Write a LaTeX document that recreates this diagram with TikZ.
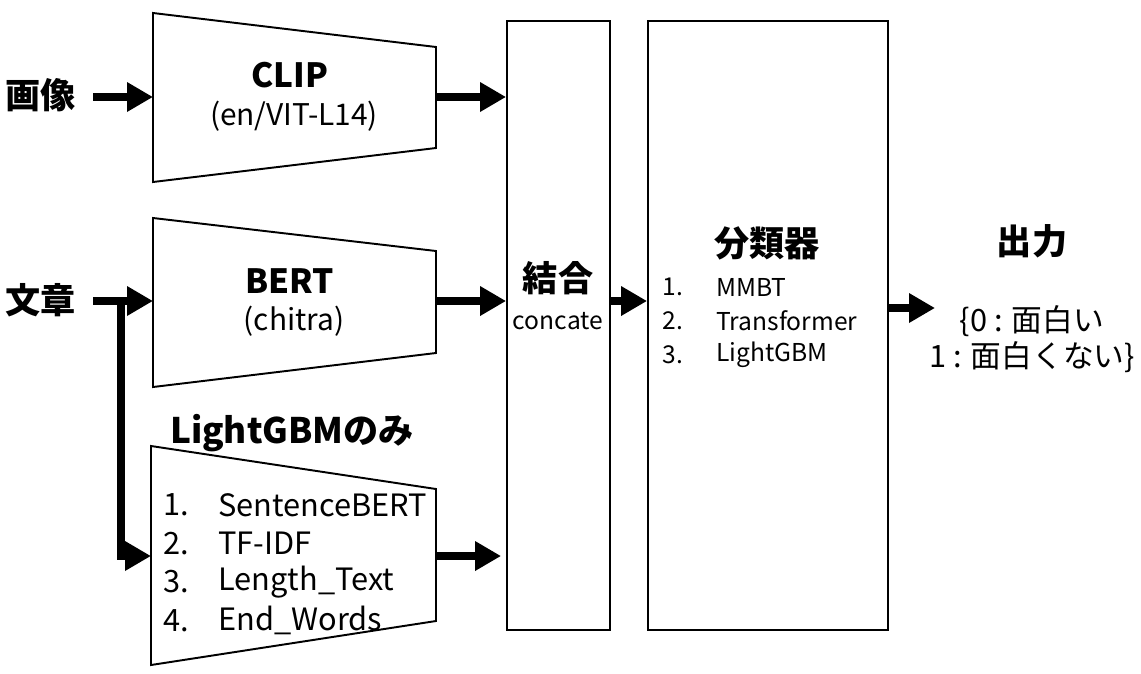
\documentclass[tikz,border=0pt]{standalone}
\usepackage{fontspec}
\setmainfont{Noto Sans CJK JP}
\usetikzlibrary{arrows.meta,calc,positioning}
\tikzset{fat/.style={line width=4.5pt, -{Triangle[length=0.52cm,width=0.56cm]}},
	fatline/.style={line width=4.5pt},
	trap/.style={draw, line width=1.1pt},
	tall/.style={draw, line width=1.1pt, minimum height=12.18cm, inner sep=0},
	lbl/.style={font=\fontsize{20}{23}\selectfont\bfseries, inner sep=0},
	head/.style={font=\fontsize{19}{22}\selectfont\bfseries, inner sep=0},
	sub/.style={font=\fontsize{17}{20}\selectfont, inner sep=0},
	item/.style={font=\fontsize{17.5}{20}\selectfont, inner sep=0, anchor=west},
	small/.style={font=\fontsize{14}{17}\selectfont, inner sep=0, anchor=west}}

\begin{document}
\begin{tikzpicture}[x=0.02cm, y=-0.02cm]
	\useasboundingbox (0,0) rectangle (1141,673);
	% inputs
	\node[lbl] (img) at (41,95) {画像};
	\node[lbl] (txt) at (41,300) {文章};
	\coordinate (imgout) at (93,97);
	\coordinate (txtout) at (93,301);
	\coordinate (fork) at (121,297);
	% encoders
	\draw[trap] (153,13) -- (436,47) -- (436,148) -- (153,182) -- cycle;
	\coordinate (clipL) at (153,97);
	\coordinate (clipR) at (436,97);
	\node[head] (clip) at (290,75) {CLIP};
	\node[sub] (clipsub) at (294,116) {(en/VIT-L14)};
	\draw[trap] (153,218) -- (436,251) -- (436,353) -- (153,387) -- cycle;
	\coordinate (bertL) at (153,301);
	\coordinate (bertR) at (436,301);
	\node[head] (bert) at (290,281) {BERT};
	\node[sub] (bertsub) at (294,321) {(chitra)};
	\draw[trap] (151,446) -- (436,489) -- (436,621) -- (151,665) -- cycle;
	\coordinate (gbmL) at (151,556);
	\coordinate (gbmR) at (436,556);
	\node[lbl] (gbm) at (292,433) {LightGBMのみ};
	\foreach \i/\t in {1/SentenceBERT,2/TF-IDF,3/Length\_Text,4/End\_Words} {
		\node[item] (gbmn\i) at (163,466.5+38.5*\i) {\i.};
		\node[item] (gbmt\i) at (218,466.5+38.5*\i) {\t};
	}
	% concat and classifier
	\node[tall, minimum width=2.06cm] (cat) at (558.5,325.5) {};
	\node[lbl] (cattitle) at (558,278) {結合};
	\node[small, anchor=center] (catsub) at (558,321) {concate};
	\node[tall, minimum width=4.8cm] (cls) at (768,325.5) {};
	\node[lbl] (clstitle) at (767,243) {分類器};
	\foreach \i/\t in {1/MMBT,2/Transformer,3/LightGBM} {
		\node[small] (clsn\i) at (662,253+34*\i) {\i.};
		\node[small] (clst\i) at (716,253+34*\i) {\t};
	}
	% output
	\node[lbl] (out) at (1032,241) {出力};
	\node[item, anchor=center] (out0) at (1032,321) {\{0 : 面白い};
	\node[item, anchor=center] (out1) at (1032,357) {1 : 面白くない\}};
	\coordinate (outend) at (935,308);
	% arrows
	\draw[fat] (imgout) -- (clipL);
	\draw[fat] (clipR) -- (clipR -| cat.west);
	\draw[fat] (txtout) -- (bertL);
	\draw[fat] (bertR) -- (bertR -| cat.west);
	\draw[fatline] (fork) -- (fork |- gbmL);
	\draw[fat] ([xshift=-2.2pt]fork |- gbmL) -- (gbmL);
	\draw[fat] (gbmR) -- ([xshift=-0.1cm]gbmR -| cat.west);
	\draw[fat] (cat.east |- bertR) -- (cls.west |- bertR);
	\draw[fat] (cls.east |- outend) -- (outend);
\end{tikzpicture}
\end{document}
